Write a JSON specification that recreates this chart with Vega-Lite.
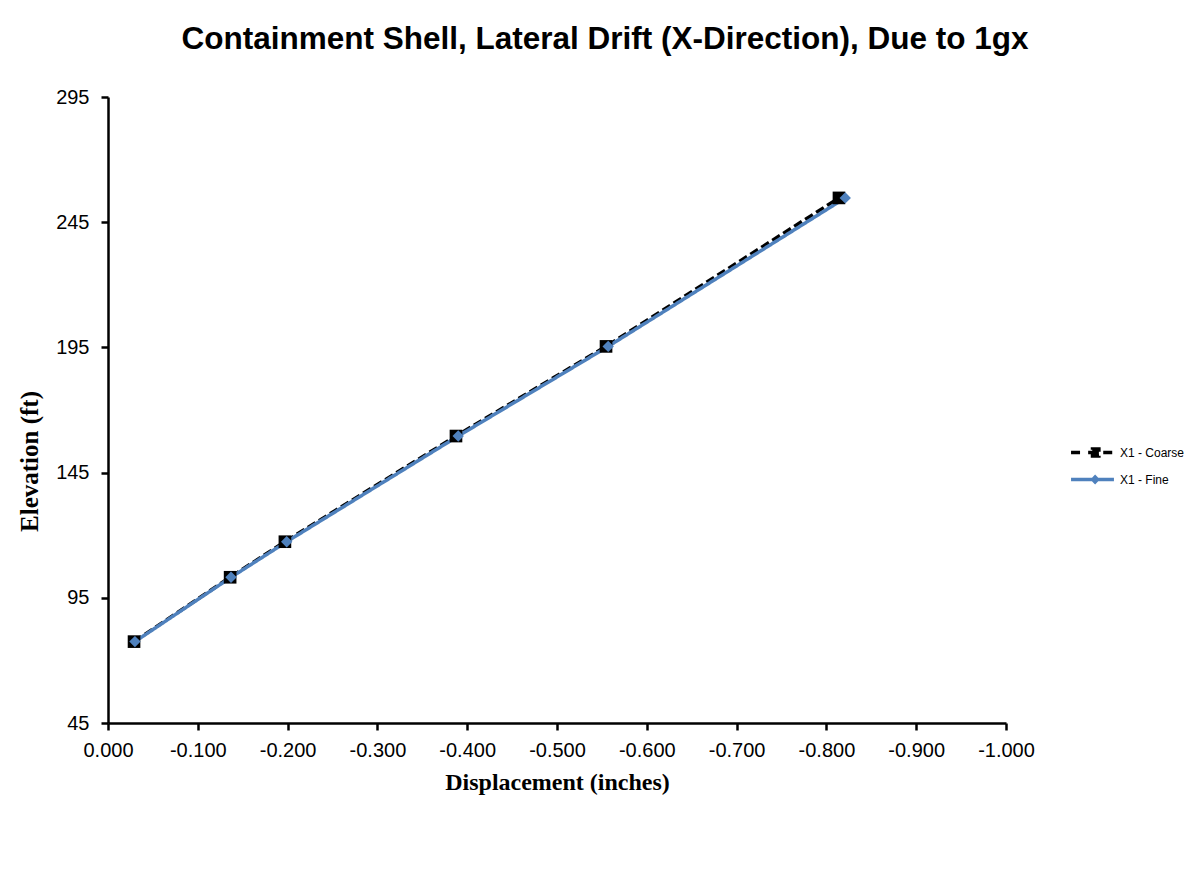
{
  "$schema": "https://vega.github.io/schema/vega-lite/v6.json",
  "autosize": "none",
  "width": 898,
  "height": 626,
  "padding": {"left": 108, "top": 97, "right": 196, "bottom": 151},
  "background": "white",
  "config": {
    "view": {"stroke": null},
    "axis": {
      "domainColor": "black", "domainWidth": 2.5, "tickColor": "black", "tickWidth": 2.5, "tickSize": 7,
      "labelFont": "Liberation Sans", "labelFontSize": 20, "labelColor": "black", "grid": false,
      "labelFlush": false, "labelOverlap": false,
      "titleFont": "Liberation Serif", "titleFontWeight": "bold", "titleColor": "black"
    }
  },
  "title": {
    "text": "Containment Shell, Lateral Drift (X-Direction), Due to 1gx",
    "font": "Liberation Sans", "fontSize": 31.5, "fontWeight": "bold", "color": "black",
    "anchor": "middle", "dx": 48, "offset": 32
  },
  "data": {"values": [
    {"series": "X1 - Coarse", "disp": -0.029, "elev": 77.5},
    {"series": "X1 - Coarse", "disp": -0.136, "elev": 103.2},
    {"series": "X1 - Coarse", "disp": -0.197, "elev": 117.4},
    {"series": "X1 - Coarse", "disp": -0.3875, "elev": 159.6},
    {"series": "X1 - Coarse", "disp": -0.5546, "elev": 195.4},
    {"series": "X1 - Coarse", "disp": -0.814, "elev": 254.7},
    {"series": "X1 - Fine", "disp": -0.030, "elev": 77.5},
    {"series": "X1 - Fine", "disp": -0.137, "elev": 103.2},
    {"series": "X1 - Fine", "disp": -0.199, "elev": 117.4},
    {"series": "X1 - Fine", "disp": -0.390, "elev": 159.6},
    {"series": "X1 - Fine", "disp": -0.557, "elev": 195.4},
    {"series": "X1 - Fine", "disp": -0.821, "elev": 254.7}
  ]},
  "encoding": {
    "x": {"field": "disp", "type": "quantitative", "scale": {"domain": [0, -1], "nice": false, "zero": false},
      "axis": {"values": [0, -0.1, -0.2, -0.3, -0.4, -0.5, -0.6, -0.7, -0.8, -0.9, -1],
        "labelExpr": "replace(format(datum.value, '.3f'), '\u2212', '-')", "labelPadding": 10,
        "title": "Displacement (inches)", "titleFontSize": 24, "titleY": 66, "titleBaseline": "alphabetic",
        "encode": {"ticks": {"update": {"y": {"value": -7}, "y2": {"value": 7}}}}}},
    "y": {"field": "elev", "type": "quantitative", "scale": {"domain": [45, 295], "nice": false, "zero": false},
      "axis": {"values": [45, 95, 145, 195, 245, 295], "format": "d", "labelPadding": 12,
        "title": "Elevation (ft)", "titleFontSize": 25, "titleX": -71, "titleY": 364, "titleAngle": -90, "titleBaseline": "alphabetic", "titleAlign": "center",
        "encode": {"ticks": {"update": {"x": {"value": 7}, "x2": {"value": -7}}}}}}
  },
  "layer": [
    {
      "mark": {"type": "line", "strokeWidth": 3.5},
      "encoding": {
        "color": {"field": "series", "type": "nominal",
          "scale": {"domain": ["X1 - Coarse", "X1 - Fine"], "range": ["black", "#4F81BD"]},
          "legend": {
            "orient": "none", "legendX": 968, "legendY": 339, "title": null, "padding": 0,
            "symbolSize": 841, "rowPadding": 0, "labelOffset": 11,
            "labelFont": "Liberation Sans", "labelFontSize": 12, "labelColor": "black",
            "symbolStrokeWidth": 3.5,
            "encode": {"symbols": {"update": {
              "shape": {"signal": "datum.value === 'X1 - Coarse' ? 'M-1.48,0H-0.74M-0.3,0H0.44M0.74,0H1.48M0,-0.24H0.44V0.24H0Z' : 'M-1.48,0H1.48M0.18,-0.17L0.35,0L0.18,0.17L0.01,0Z'"},
              "size": {"value": 841},
              "fill": {"signal": "datum.value === 'X1 - Coarse' ? 'black' : '#4F81BD'"},
              "stroke": {"signal": "datum.value === 'X1 - Coarse' ? 'black' : '#4F81BD'"},
              "strokeDash": {"value": []},
              "strokeWidth": {"value": 3.5},
              "opacity": {"value": 1}
            }}}
          }},
        "strokeDash": {"field": "series", "type": "nominal",
          "scale": {"domain": ["X1 - Coarse", "X1 - Fine"], "range": [[9, 4], [1, 0]]}, "legend": null}
      }
    },
    {
      "transform": [{"filter": "datum.series === 'X1 - Coarse'"}],
      "mark": {"type": "point", "filled": true, "opacity": 1, "shape": "square", "size": 160, "color": "black"}
    },
    {
      "transform": [{"filter": "datum.series === 'X1 - Fine'"}],
      "mark": {"type": "point", "filled": true, "opacity": 1, "shape": "diamond", "size": 130, "color": "#4F81BD"}
    }
  ]
}
